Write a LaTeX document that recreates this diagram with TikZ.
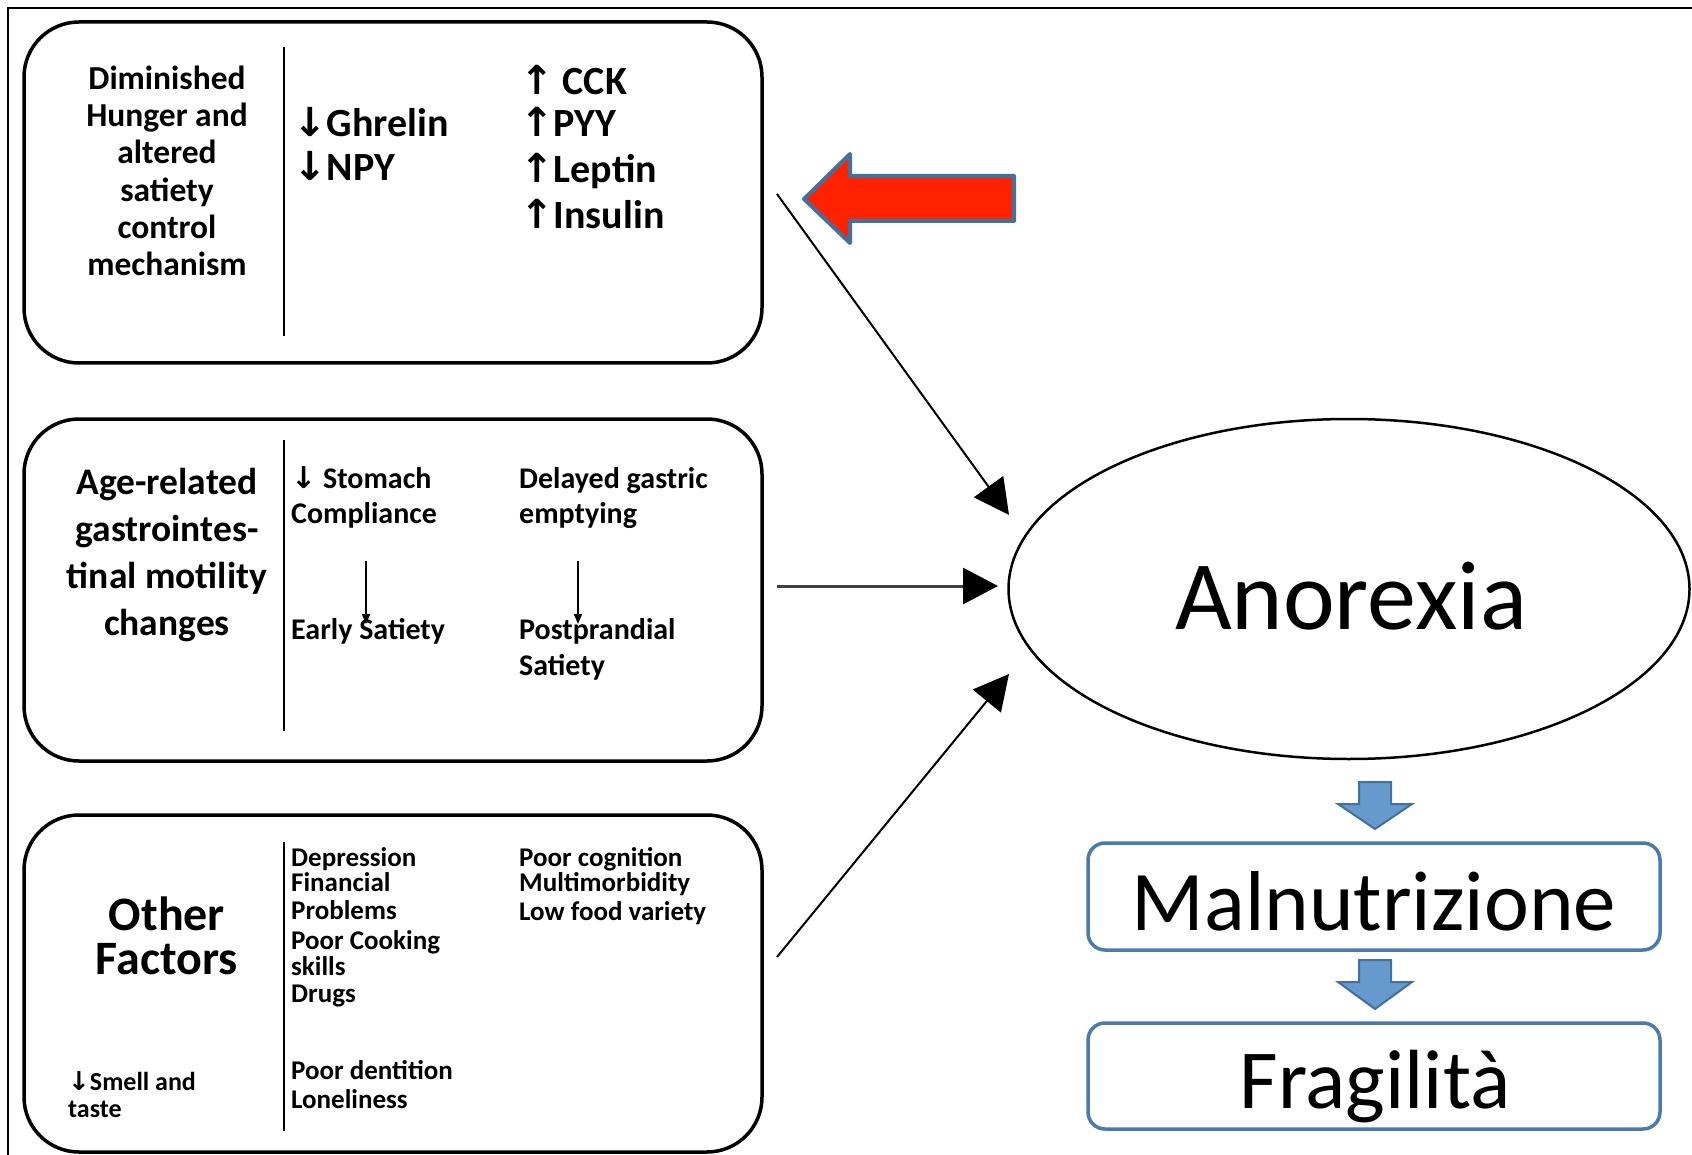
\documentclass[tikz,border=0pt]{standalone}
\usepackage{fontspec}
\setmainfont{Carlito}
\newfontfamily\arrfont{DejaVu Sans}
\usetikzlibrary{shapes.geometric,arrows.meta,calc}
\definecolor{redfill}{HTML}{FF2200}
\definecolor{blueedge}{HTML}{41719C}
\definecolor{bluefill}{HTML}{6699CC}
\definecolor{boxblue}{HTML}{4A7AAE}
\newcommand\fsz[2]{\fontsize{#1}{#2}\selectfont}
\newcommand\dnar{{\arrfont\bfseries ↓}}
\newcommand\upar{{\arrfont\bfseries ↑}}
\begin{document}
\begin{tikzpicture}[x=1pt,y=-1pt,
  factorbox/.style={draw=black, line width=3.5pt, rounded corners=55pt, minimum width=738pt, inner sep=0pt},
  divider/.style={draw=black, line width=2.8pt},
  conn/.style={draw=black, line width=2pt, -{Triangle[length=35pt,width=36pt,color=black]}},
  smallarr/.style={draw=black, line width=1.5pt, -{Triangle[length=10pt,width=8pt]}},
  ttl/.style={align=center, inner sep=0pt},
  txt/.style={anchor=base west, inner sep=0pt},
  outbox/.style={draw=boxblue, line width=3.5pt, rounded corners=17pt, minimum width=572pt, inner sep=0pt},
  bluearrow/.style={fill=bluefill, draw=blueedge, line width=2pt, line join=miter},
]
\useasboundingbox (0,0) rectangle (1692,1155);
\fill[white] (0,0) rectangle (1692,1155);
% frame
\draw[line width=2.5pt] (8,1160) -- (8,8) -- (1700,8);

% factor boxes
\node[factorbox, minimum height=341pt] (b1) at (393,192.5) {};
\node[factorbox, minimum height=342pt] (b2) at (393,590) {};
\node[factorbox, minimum height=337pt] (b3) at (393,983.5) {};
\draw[divider] (284,47) -- (284,336);
\draw[divider] (284,440) -- (284,731);
\draw[divider] (284,842) -- (284,1131);

% box 1 texts
\node[ttl, font=\bfseries\fsz{33.5}{37.3}] (t1) at (167,171) {Diminished\\Hunger and\\altered\\satiety\\control\\mechanism};
\node[txt, font=\bfseries\fsz{40}{44}] (g1) at (293,137) {\dnar Ghrelin};
\node[txt, font=\bfseries\fsz{40}{44}] (g2) at (293,181) {\dnar NPY};
\node[txt, font=\bfseries\fsz{40}{44}] (h1) at (520,95) {\upar\ CCK};
\node[txt, font=\bfseries\fsz{40}{44}] (h2) at (520,137) {\upar PYY};
\node[txt, font=\bfseries\fsz{40}{44}] (h3) at (520,183) {\upar Leptin};
\node[txt, font=\bfseries\fsz{40}{44}] (h4) at (520,229) {\upar Insulin};

% box 2 texts
\node[ttl, font=\bfseries\fsz{37.5}{46.7}] (t2) at (167,555) {Age-related\\gastrointes-\\tinal motility\\changes};
\node[txt, font=\bfseries\fsz{30}{35}] (m1) at (291,488) {\dnar\ Stomach};
\node[txt, font=\bfseries\fsz{30}{35}] (m2) at (291,523) {Compliance};
\node[txt, font=\bfseries\fsz{30}{35}] (m3) at (291,639) {Early Satiety};
\node[txt, font=\bfseries\fsz{30}{35}] (r1) at (519,488) {Delayed gastric};
\node[txt, font=\bfseries\fsz{30}{35}] (r2) at (519,523) {emptying};
\node[txt, font=\bfseries\fsz{30}{35}] (r3) at (519,639) {Postprandial};
\node[txt, font=\bfseries\fsz{30}{35}] (r4) at (519,675) {Satiety};
\coordinate (a1s) at (366,561);
\coordinate (a1e) at (366,624);
\coordinate (a2s) at (578,561);
\coordinate (a2e) at (578,624);
\draw[smallarr] (a1s) -- (a1e);
\draw[smallarr] (a2s) -- (a2e);

% box 3 texts
\node[ttl, font=\bfseries\fsz{48}{44}] (t3) at (167,936) {Other\\Factors};
\node[txt, font=\bfseries\fsz{26}{27}] (s1) at (68,1090) {\dnar Smell and};
\node[txt, font=\bfseries\fsz{26}{27}] (s2) at (68,1117) {taste};
\node[txt, font=\bfseries\fsz{27}{27}] (o1) at (291,866) {Depression};
\node[txt, font=\bfseries\fsz{27}{27}] (o2) at (291,891) {Financial};
\node[txt, font=\bfseries\fsz{27}{27}] (o3) at (291,919) {Problems};
\node[txt, font=\bfseries\fsz{27}{27}] (o4) at (291,949) {Poor Cooking};
\node[txt, font=\bfseries\fsz{27}{27}] (o5) at (291,975) {skills};
\node[txt, font=\bfseries\fsz{27}{27}] (o6) at (291,1002) {Drugs};
\node[txt, font=\bfseries\fsz{27}{27}] (o7) at (291,1079) {Poor dentition};
\node[txt, font=\bfseries\fsz{27}{27}] (o8) at (291,1108) {Loneliness};
\node[txt, font=\bfseries\fsz{27}{27}] (p1) at (519,866) {Poor cognition};
\node[txt, font=\bfseries\fsz{27}{27}] (p2) at (519,891) {Multimorbidity};
\node[txt, font=\bfseries\fsz{27}{27}] (p3) at (519,920) {Low food variety};

% red arrow
\draw[fill=redfill, draw=blueedge, line width=4pt, line join=round]
  (804,199) -- (850,154) -- (850,176) -- (1014,176) -- (1014,221) -- (850,221) -- (850,243) -- cycle;

% anorexia ellipse
\node[draw, ellipse, line width=2.5pt, minimum width=681pt, minimum height=340pt, inner sep=0pt] (ano) at (1349,589) {};
\node[anchor=base, inner sep=0pt, font=\fsz{98}{110}] (anotxt) at (1351,629) {Anorexia};

% connectors
\coordinate (c1s) at (777,194);
\coordinate (c1e) at (1009,515);
\coordinate (c2s) at (777,586);
\coordinate (c2e) at (998,586);
\coordinate (c3s) at (777,957);
\coordinate (c3e) at (1009,674);
\draw[conn] (c1s) -- (c1e);
\draw[conn, draw=black!75, line width=3pt] (c2s) -- (c2e);
\draw[conn] (c3s) -- (c3e);

% outcome boxes
\node[outbox, minimum height=107pt] (mal) at (1374,896.5) {};
\node[anchor=base, inner sep=0pt, font=\fsz{85}{100}] (maltxt) at (1374,930) {Malnutrizione};
\node[outbox, minimum height=106pt] (fra) at (1374,1076) {};
\node[anchor=base, inner sep=0pt, font=\fsz{84}{100}] (fratxt) at (1375,1108) {Fragilità};

% blue down arrows
\draw[bluearrow] (1359,782) -- (1391,782) -- (1391,804) -- (1412,804) -- (1375,829) -- (1338,804) -- (1359,804) -- cycle;
\draw[bluearrow] (1359,960) -- (1391,960) -- (1391,982) -- (1412,982) -- (1375,1009) -- (1338,982) -- (1359,982) -- cycle;
\end{tikzpicture}
\end{document}
